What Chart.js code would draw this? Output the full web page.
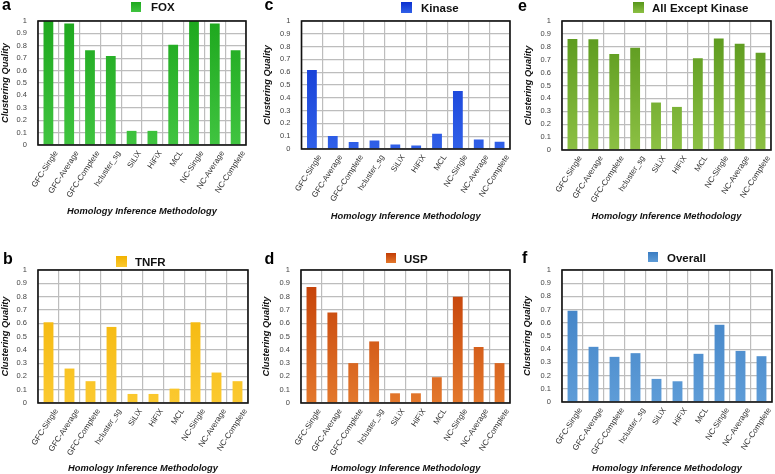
<!DOCTYPE html>
<html>
<head>
<meta charset="utf-8">
<title>Clustering Quality</title>
<script src="https://cdn.jsdelivr.net/npm/chart.js@4.4.1/dist/chart.umd.min.js"></script>
<style>
html, body { margin: 0; padding: 0; background: #fff; }
body { width: 775px; height: 474px; position: relative; overflow: hidden; }
canvas { position: absolute; }
</style>
</head>
<body>
<canvas id="foxCanvas" width="258" height="237" style="left:0px;top:0px"></canvas>
<canvas id="kinaseCanvas" width="257" height="237" style="left:258px;top:0px"></canvas>
<canvas id="allExceptCanvas" width="260" height="237" style="left:515px;top:0px"></canvas>
<canvas id="tnfrCanvas" width="258" height="237" style="left:0px;top:237px"></canvas>
<canvas id="uspCanvas" width="257" height="237" style="left:258px;top:237px"></canvas>
<canvas id="overallCanvas" width="260" height="237" style="left:515px;top:237px"></canvas>
<script>
"use strict"

//Methods on the x axis
const methods = ['GFC-Single', 'GFC-Average', 'GFC-Complete', 'hcluster_sg', 'SiLiX', 'HiFiX', 'MCL', 'NC-Single', 'NC-Average', 'NC-Complete'];

//Clustering quality per family
const foxValues = [1.0, 0.979, 0.765, 0.718, 0.114, 0.114, 0.808, 1.0, 0.979, 0.765];
const kinaseValues = [0.617, 0.101, 0.054, 0.067, 0.036, 0.028, 0.119, 0.453, 0.075, 0.057];
const allExceptKinaseValues = [0.861, 0.858, 0.745, 0.792, 0.368, 0.334, 0.712, 0.865, 0.824, 0.753];
const tnfrValues = [0.607, 0.259, 0.164, 0.572, 0.068, 0.068, 0.108, 0.607, 0.229, 0.164];
const uspValues = [0.872, 0.68, 0.3, 0.463, 0.073, 0.073, 0.194, 0.798, 0.421, 0.3];
const overallValues = [0.691, 0.418, 0.342, 0.37, 0.175, 0.157, 0.365, 0.585, 0.387, 0.347];

//Y axis ticks
const yMin = 0;
const yMax = 1;
const yStep = 0.1;

const fontFamily = '"Liberation Sans", Arial, Helvetica, sans-serif';
const titleFont = { family: fontFamily, size: 9.3, weight: 'bold', style: 'italic', lineHeight: 1.2 };
const gridColor = '#bdbdbd';

//Panel placement, all relative to each canvas
const panels = [
    { canvas: 'foxCanvas', letter: 'a', name: 'FOX', data: foxValues, top: '#1ea81e', bottom: '#40c440',
      plot: [38, 246, 21, 145], yTitleX: 5, xTitleY: 211, letterAt: [2, 10], keyAt: [131, 2, 10], keyText: [151, 10.5] },
    { canvas: 'kinaseCanvas', letter: 'c', name: 'Kinase', data: kinaseValues, top: '#0b30cf', bottom: '#3060e8',
      plot: [43.5, 252, 21, 149], yTitleX: 9, xTitleY: 216, letterAt: [6.5, 10], keyAt: [143, 2, 11], keyText: [163, 11.5] },
    { canvas: 'allExceptCanvas', letter: 'e', name: 'All Except Kinase', data: allExceptKinaseValues, top: '#57961a', bottom: '#8cc044',
      plot: [47, 256, 21, 150], yTitleX: 13, xTitleY: 216, letterAt: [3, 10.5], keyAt: [118, 2, 11], keyText: [137, 11.5] },
    { canvas: 'tnfrCanvas', letter: 'b', name: 'TNFR', data: tnfrValues, top: '#f2b200', bottom: '#fbc930',
      plot: [38, 248, 33, 166], yTitleX: 5, xTitleY: 231, letterAt: [3, 27], keyAt: [116, 19, 11], keyText: [135, 28.5] },
    { canvas: 'uspCanvas', letter: 'd', name: 'USP', data: uspValues, top: '#c23c05', bottom: '#e3782c',
      plot: [43, 252, 33, 166], yTitleX: 8, xTitleY: 232, letterAt: [6.5, 27], keyAt: [128, 16, 10], keyText: [146, 25.5] },
    { canvas: 'overallCanvas', letter: 'f', name: 'Overall', data: overallValues, top: '#3a7cc2', bottom: '#5e9cd7',
      plot: [47, 257, 33, 165], yTitleX: 12.5, xTitleY: 231, letterAt: [7, 26], keyAt: [133, 15, 10], keyText: [152, 24.5] }
];


//Frame round the plot, panel letter and the one-entry key
const panelDecor = {
    id: 'panelDecor',
    afterDatasetsDraw(chart) {
        const area = chart.chartArea;
        const ctx = chart.ctx;
        ctx.save();
        ctx.strokeStyle = '#111';
        ctx.lineWidth = 1.6;
        ctx.strokeRect(area.left, area.top, area.right - area.left, area.bottom - area.top);
        ctx.restore();
    },
    afterDraw(chart, args, opts) {
        const ctx = chart.ctx;
        const p = opts.panel;
        ctx.save();
        ctx.fillStyle = '#000';
        ctx.font = 'bold 16px ' + fontFamily;
        ctx.textBaseline = 'alphabetic';
        ctx.fillText(p.letter, p.letterAt[0], p.letterAt[1]);

        const k = p.keyAt;
        const g = ctx.createLinearGradient(0, k[1], 0, k[1] + k[2]);
        g.addColorStop(0, p.top);
        g.addColorStop(1, p.bottom);
        ctx.fillStyle = g;
        ctx.fillRect(k[0], k[1], k[2], k[2]);

        ctx.fillStyle = '#111';
        ctx.font = 'bold 11.5px ' + fontFamily;
        ctx.fillText(p.name, p.keyText[0], p.keyText[1]);
        ctx.restore();
    }
};


function barGradient(p) {
    return function (context) {
        const chart = context.chart;
        const area = chart.chartArea;
        if (!area) {
            return p.top;
        }
        const g = chart.ctx.createLinearGradient(0, area.top, 0, area.bottom);
        g.addColorStop(0, p.top);
        g.addColorStop(1, p.bottom);
        return g;
    };
}


function DrawPanel(p) {
    const canvas = document.getElementById(p.canvas);
    const w = canvas.width;
    const h = canvas.height;
    const halfLine = titleFont.size * titleFont.lineHeight / 2;

    const config = {
        type: 'bar',
        data: {
            labels: methods,
            datasets: [{
                label: p.name,
                data: p.data,
                backgroundColor: barGradient(p),
                borderWidth: 0,
                barPercentage: 1,
                categoryPercentage: 0.47
            }]
        },
        options: {
            responsive: false,
            animation: false,
            layout: {
                padding: { left: 0, right: w - p.plot[1], top: p.plot[2], bottom: 0 }
            },
            plugins: {
                legend: { display: false },
                tooltip: { enabled: false },
                panelDecor: { panel: p }
            },
            scales: {
                x: {
                    offset: true,
                    grid: { color: gridColor, lineWidth: 1.2, offset: true, drawTicks: false },
                    border: { display: false },
                    ticks: {
                        autoSkip: false,
                        minRotation: 57,
                        maxRotation: 57,
                        padding: 4,
                        labelOffset: 8,
                        color: '#333',
                        font: { family: fontFamily, size: 8 }
                    },
                    title: {
                        display: true,
                        text: 'Homology Inference Methodology',
                        color: '#111',
                        font: titleFont,
                        padding: { top: 0, bottom: Math.max(0, h - p.xTitleY - halfLine) }
                    },
                    afterFit(scale) {
                        scale.height = h - p.plot[3];
                    }
                },
                y: {
                    min: yMin,
                    max: yMax,
                    grid: { color: gridColor, lineWidth: 1.2, drawTicks: false },
                    border: { display: false },
                    ticks: {
                        stepSize: yStep,
                        padding: 11,
                        color: '#444',
                        font: { family: fontFamily, size: 7.5 },
                        callback: (v) => String(Math.round(v * 10) / 10)
                    },
                    title: {
                        display: true,
                        text: 'Clustering Quality',
                        color: '#111',
                        font: titleFont,
                        padding: { top: Math.max(0, p.yTitleX - halfLine), bottom: 0 }
                    },
                    afterFit(scale) {
                        scale.width = p.plot[0];
                    }
                }
            }
        },
        plugins: [panelDecor]
    };

    return new Chart(canvas, config);
}


for (const p of panels) {
    DrawPanel(p);
}
</script>
</body>
</html>
